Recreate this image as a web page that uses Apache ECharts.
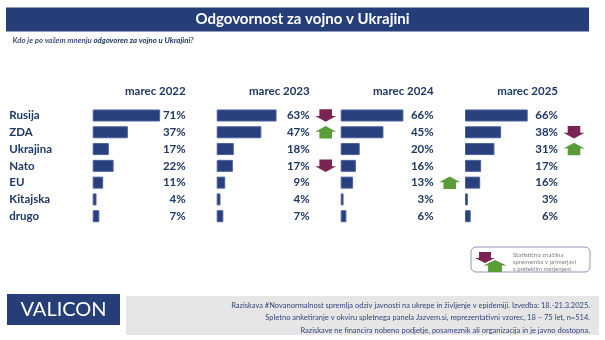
<!DOCTYPE html>
<html>
<head>
<meta charset="utf-8">
<script src="https://cdn.jsdelivr.net/npm/echarts@6/dist/echarts.min.js"></script>
<style>
  html, body { margin: 0; padding: 0; background: #fff; }
  #chart { width: 605px; height: 340px; }
</style>
</head>
<body>
<div id="chart"></div>
<script>
// Rows and survey waves
const categories = ['Rusija', 'ZDA', 'Ukrajina', 'Nato', 'EU', 'Kitajska', 'drugo'];
const periods = ['marec 2022', 'marec 2023', 'marec 2024', 'marec 2025'];

// Share of respondents (%) per wave
const v2022 = [71, 37, 17, 22, 11, 4, 7];
const v2023 = [63, 47, 18, 17, 9, 4, 7];
const v2024 = [66, 45, 20, 16, 13, 3, 6];
const v2025 = [66, 38, 31, 17, 16, 3, 6];

// Statistically significant change vs. previous wave: 1 = up, -1 = down, 0 = none
const chg2022 = [0, 0, 0, 0, 0, 0, 0];
const chg2023 = [-1, 1, 0, -1, 0, 0, 0];
const chg2024 = [0, 0, 0, 0, 1, 0, 0];
const chg2025 = [0, -1, 1, 0, 0, 0, 0];

const values = [v2022, v2023, v2024, v2025];
const changes = [chg2022, chg2023, chg2024, chg2025];

const NAVY = '#1f3864';
const BAR = '#28407d';
const UP = '#5b9b3a';
const DOWN = '#7b2352';
const FONT = 'Lato, "Open Sans", sans-serif';

const panelLeft = [92.7, 216.7, 340.7, 465];
const panelWidth = 95;
const gridTop = 107.1;
const gridHeight = 117.5;

// Block arrow polygon centred at (cx, cy); dir = 1 points up, -1 points down
function arrowPts(cx, cy, dir, w, h) {
  const hw = w / 2, sw = w * 0.3, hh = h / 2, neck = h * 0.04;
  const base = [[-sw, -hh], [sw, -hh], [sw, neck], [hw, neck], [0, hh], [-hw, neck], [-sw, neck]];
  // base shape points down; flip vertically for up arrows
  return base.map(p => [cx + p[0], cy + (dir === 1 ? -p[1] : p[1])]);
}

const grids = [], xAxes = [], yAxes = [], series = [], titles = [];

periods.forEach((period, i) => {
  grids.push({ left: panelLeft[i], top: gridTop, width: panelWidth, height: gridHeight, containLabel: false });
  xAxes.push({ gridIndex: i, type: 'value', min: 0, max: 100, show: false });
  // category names (only shown on the first panel)
  yAxes.push({
    gridIndex: i, type: 'category', data: categories, inverse: true, position: 'left',
    axisLine: { show: false }, axisTick: { show: false }, splitLine: { show: false },
    axisLabel: {
      show: i === 0, align: 'left', margin: panelLeft[0] - 9.3,
      color: NAVY, fontFamily: FONT, fontWeight: 'bold', fontSize: 11.5
    }
  });
  // value labels, right-aligned at the panel's right side
  yAxes.push({
    gridIndex: i, type: 'category', data: values[i].map(v => v + '%'), inverse: true, position: 'right',
    axisLine: { show: false }, axisTick: { show: false }, splitLine: { show: false },
    axisLabel: {
      align: 'right', margin: -2,
      color: NAVY, fontFamily: FONT, fontWeight: 'bold', fontSize: 11.5
    }
  });
  series.push({
    type: 'bar', xAxisIndex: i, yAxisIndex: i * 2, data: values[i], barWidth: 12,
    itemStyle: { color: BAR, borderColor: '#4c609a', borderWidth: 1 },
    silent: true, animation: false
  });
  const arrows = changes[i].map((d, r) => [0, r, d]).filter(a => a[2] !== 0);
  series.push({
    type: 'custom', xAxisIndex: i, yAxisIndex: i * 2, data: arrows, silent: true, animation: false,
    renderItem(params, api) {
      const cs = params.coordSys;
      const y = api.coord([0, api.value(1)])[1];
      const dir = api.value(2);
      const x = cs.x + cs.width + 14;
      return {
        type: 'polygon',
        shape: { points: arrowPts(x, y, dir, 21, 12.5) },
        style: { fill: dir === 1 ? UP : DOWN }
      };
    }
  });
  titles.push({
    text: period, right: 605 - (panelLeft[i] + 93), top: 85, padding: 0,
    textStyle: { color: NAVY, fontFamily: FONT, fontWeight: 'bold', fontSize: 11.5 }
  });
});

// Heading bar and question
titles.push({
  text: 'Odgovornost za vojno v Ukrajini', left: 'center', top: 11.5, padding: 0,
  textStyle: { color: '#ffffff', fontFamily: FONT, fontWeight: 'bold', fontSize: 15 }
});
titles.push({
  text: '{n|Kdo je po vašem mnenju }{b|odgovoren za vojno u Ukrajini}{n|?}', left: 12.5, top: 36, padding: 0,
  textStyle: {
    rich: {
      n: { color: '#44517a', fontFamily: FONT, fontStyle: 'italic', fontSize: 7.8 },
      b: { color: NAVY, fontFamily: FONT, fontStyle: 'italic', fontWeight: 'bold', fontSize: 7.8 }
    }
  }
});

const footerLines = [
  'Raziskava #Novanormalnost spremlja odziv javnosti na ukrepe in življenje v epidemiji. Izvedba: 18.-21.3.2025.',
  'Spletno anketiranje v okviru spletnega panela Jazvem.si, reprezentativni vzorec, 18 – 75 let, n=514.',
  'Raziskave ne financira nobeno podjetje, posameznik ali organizacija in je javno dostopna.'
];
const legendLines = ['Statistično značilna', 'sprememba v primerjavi', 's preteklim merjenjem.'];

const graphic = [
  { type: 'rect', shape: { x: 6, y: 7.5, width: 583, height: 24 }, style: { fill: '#253e78' }, z: -1 },
  // legend box
  { type: 'rect', shape: { x: 471, y: 247, width: 119, height: 25, r: 5 }, style: { fill: '#fff', stroke: '#8d98b8', lineWidth: 1 } },
  { type: 'polygon', shape: { points: arrowPts(485, 257.5, -1, 20, 11) }, style: { fill: DOWN } },
  { type: 'polygon', shape: { points: arrowPts(495, 266, 1, 23, 12) }, style: { fill: UP } },
  {
    type: 'text', x: 513, y: 252,
    style: { text: legendLines.join('\n'), fill: '#7f7f7f', font: '6px ' + FONT, lineHeight: 7 }
  },
  // footer
  { type: 'rect', shape: { x: 7, y: 294, width: 113, height: 31 }, style: { fill: '#253e78' } },
  {
    type: 'text', x: 63.5, y: 309.5,
    style: { text: 'VALICON', fill: '#fff', font: '20px ' + FONT, align: 'center', verticalAlign: 'middle' }
  },
  { type: 'rect', shape: { x: 126, y: 296, width: 473, height: 39 }, style: { fill: '#e6e6e6' } },
  {
    type: 'text', x: 590, y: 299,
    style: { text: footerLines.join('\n'), fill: '#34457a', font: '7.5px ' + FONT, align: 'right', lineHeight: 12.5 }
  }
];

const chart = echarts.init(document.getElementById('chart'), null, { renderer: 'canvas' });
chart.setOption({
  animation: false,
  backgroundColor: '#ffffff',
  title: titles,
  grid: grids,
  xAxis: xAxes,
  yAxis: yAxes,
  series: series,
  graphic: graphic
});
</script>
</body>
</html>
